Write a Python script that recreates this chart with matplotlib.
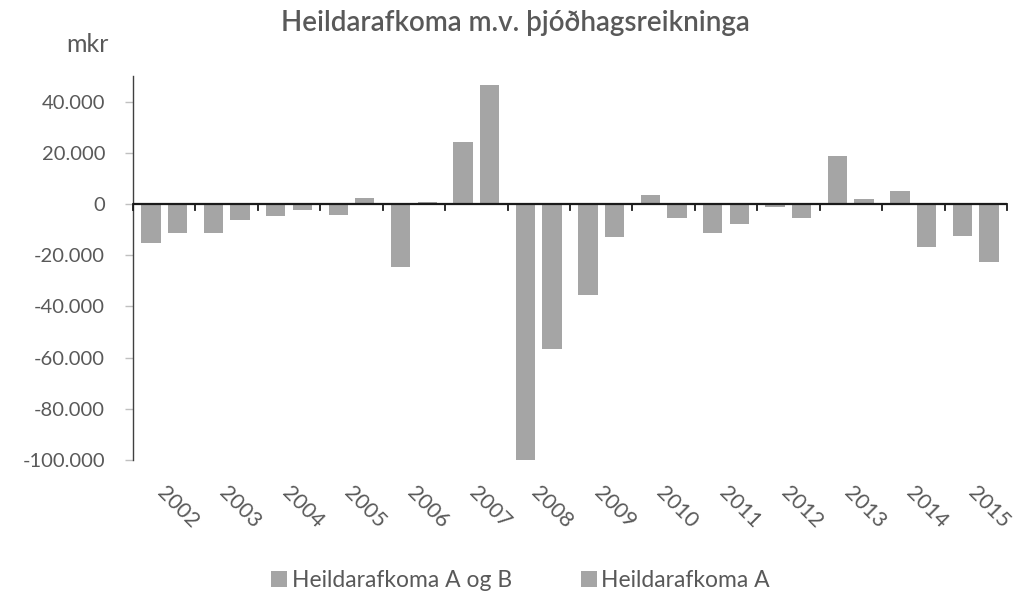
import numpy as np
import matplotlib.pyplot as plt
from matplotlib.ticker import FuncFormatter, FixedLocator

years = ['2002', '2003', '2004', '2005', '2006', '2007', '2008',
         '2009', '2010', '2011', '2012', '2013', '2014', '2015']

# mkr
afkoma_a_og_b = [-15350, -11450, -4550, -4300, -24500, 24100, -100000,
                 -35500, 3400, -11450, -1000, 18900, 5200, -12400]
afkoma_a = [-11450, -6250, -2500, 2200, 900, 46500, -56800,
            -12750, -5600, -7800, -5600, 2100, -16700, -22500]

series_names = ['Heildarafkoma A og B', 'Heildarafkoma A']

plt.rcParams['font.family'] = ['Lato', 'DejaVu Sans']
text_color = '#595959'
bar_color = '#a5a5a5'

fig = plt.figure(figsize=(10.17, 5.98), dpi=100)
ax = fig.add_axes([0.1308, 0.2308, 0.8593, 0.6421])

x = np.arange(len(years))
width = 0.31
ax.bar(x - 0.213, afkoma_a_og_b, width, color=bar_color, label=series_names[0])
ax.bar(x + 0.213, afkoma_a, width, color=bar_color, label=series_names[1])

ax.set_xlim(-0.5, len(years) - 0.5)
ax.set_ylim(-100000, 50000)
ax.yaxis.set_major_locator(FixedLocator(range(-100000, 40001, 20000)))
ax.yaxis.set_major_formatter(FuncFormatter(lambda v, p: f'{int(v):,}'.replace(',', '.')))

for s in ['top', 'right', 'bottom']:
    ax.spines[s].set_visible(False)
ax.spines['left'].set_color('#404040')
ax.spines['left'].set_linewidth(1.0)

# category axis drawn at zero
ax.axhline(0, color='#1a1a1a', linewidth=1.6, zorder=3)
for b in np.arange(-0.5, len(years), 1.0):
    ax.plot([b, b], [0, -2200], color='#1a1a1a', linewidth=1.3, zorder=3,
            clip_on=False)

ax.set_xticks([])
for i, yr in enumerate(years):
    ax.annotate(yr, xy=(i, -100000), xycoords='data',
                xytext=(-8, -16), textcoords='offset points',
                rotation=-45, ha='left', va='top', fontsize=15.5,
                color=text_color)

ax.tick_params(axis='y', colors='#c0c0c0', length=6, width=1,
               labelcolor=text_color, labelsize=14.5, pad=14)

fig.text(0.507, 0.962, 'Heildarafkoma m.v. þjóðhagsreikninga',
         ha='center', va='center', fontsize=20, fontweight='semibold',
         color=text_color)
fig.text(0.086, 0.925, 'mkr', ha='center', va='center', fontsize=18,
         color=text_color)

fig.legend(loc='center', bbox_to_anchor=(0.512, 0.03), ncol=2,
           frameon=False, fontsize=16.5, labelcolor=text_color,
           handlelength=0.7, handleheight=0.7, handletextpad=0.2,
           columnspacing=3.0)

fig.savefig('out.png', dpi=100)
